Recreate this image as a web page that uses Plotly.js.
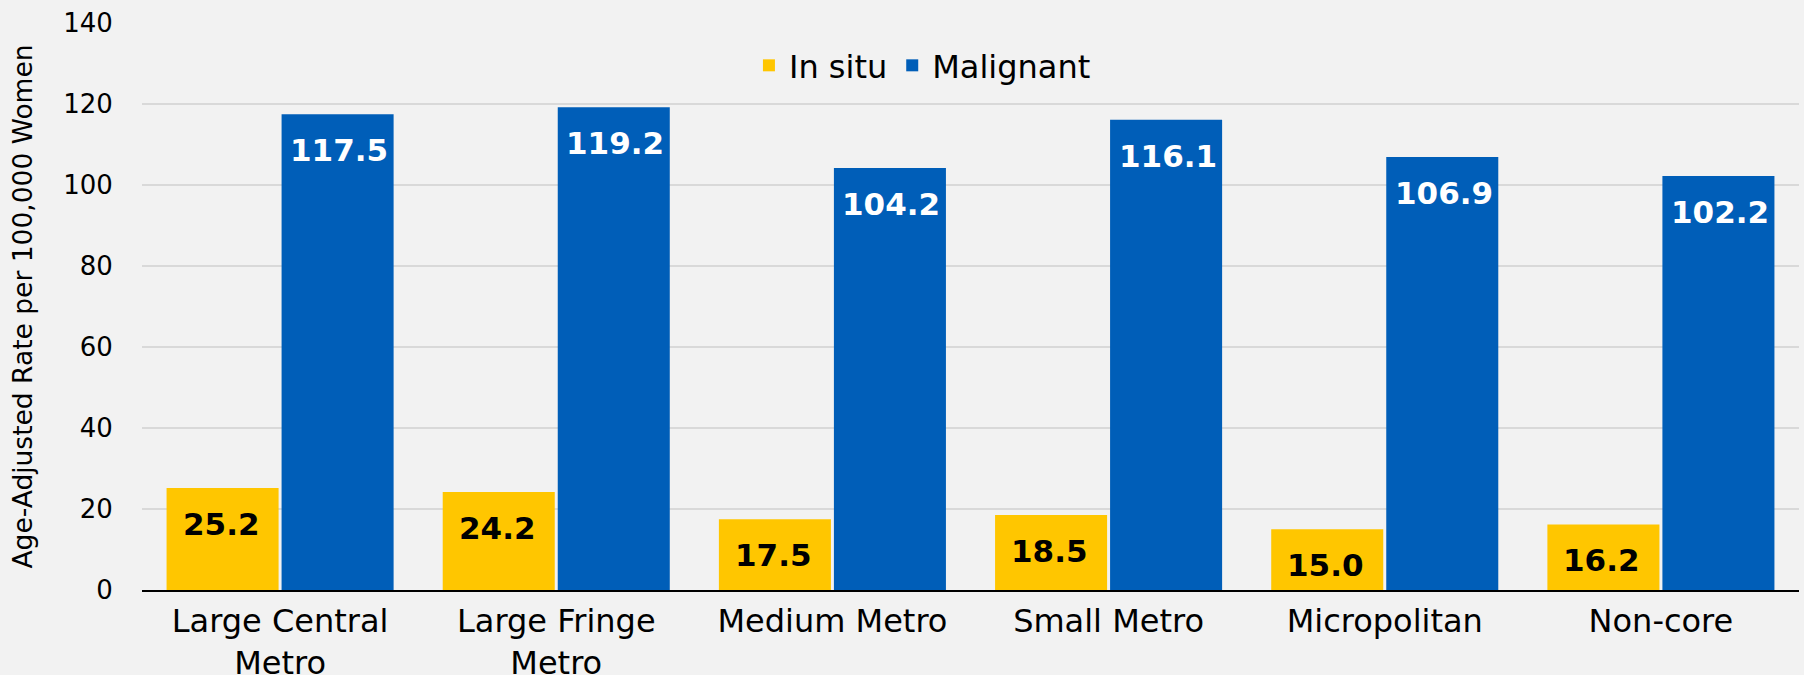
<!DOCTYPE html>
<html>
<head>
<meta charset="utf-8">
<script src="https://cdn.plot.ly/plotly-3.0.1.min.js"></script>
<style>html,body{margin:0;padding:0;background:#F2F2F2;}#chart{width:1804px;height:675px;}</style>
</head>
<body>
<div id="chart"></div>
<script>
const categories = ["Large Central<br>Metro", "Large Fringe<br>Metro", "Medium Metro", "Small Metro", "Micropolitan", "Non-core"];
const inSitu = [25.2, 24.2, 17.5, 18.5, 15.0, 16.2];
const malignant = [117.5, 119.2, 104.2, 116.1, 106.9, 102.2];
const seriesNames = ["In situ", "Malignant"];
const yTicks = [0, 20, 40, 60, 80, 100, 120, 140];

const FONT = "Verdana, 'DejaVu Sans', sans-serif";
const YELLOW = "#FFC600";
const BLUE = "#005EB8";

const traces = [
  {type: "bar", name: seriesNames[0], x: categories, y: inSitu,
   marker: {color: YELLOW}, hoverinfo: "skip"},
  {type: "bar", name: seriesNames[1], x: categories, y: malignant,
   marker: {color: BLUE}, hoverinfo: "skip"}
];

const annotations = [];
categories.forEach((c, i) => {
  annotations.push({x: c, y: inSitu[i], xref: "x", yref: "y", text: inSitu[i].toFixed(1),
    showarrow: false, xshift: -59, yshift: -36, yanchor: "middle",
    font: {family: FONT, size: 31, color: "#000000", weight: "bold"}});
  annotations.push({x: c, y: malignant[i], xref: "x", yref: "y", text: malignant[i].toFixed(1),
    showarrow: false, xshift: 59, yshift: -36, yanchor: "middle",
    font: {family: FONT, size: 31, color: "#FFFFFF", weight: "bold"}});
});

const layout = {
  width: 1804, height: 675,
  paper_bgcolor: "#F2F2F2", plot_bgcolor: "#F2F2F2",
  margin: {l: 142, r: 5, t: 23, b: 85},
  font: {family: FONT, color: "#000000"},
  barmode: "group", bargap: 0.167, bargroupgap: 0.026,
  showlegend: true,
  legend: {orientation: "h", x: 0.471, xanchor: "center", y: 0.925, yanchor: "middle",
    bgcolor: "rgba(0,0,0,0)", font: {family: FONT, size: 32, color: "#000000"},
    itemwidth: 30, traceorder: "normal"},
  xaxis: {type: "category", tickfont: {family: FONT, size: 32, color: "#000000"},
    showline: true, linecolor: "#000000", linewidth: 2, showgrid: false,
    ticks: "outside", ticklen: 2, tickcolor: "rgba(0,0,0,0)", fixedrange: true},
  yaxis: {range: [0, 140], tickvals: yTicks, ticktext: yTicks.map(String),
    tickfont: {family: FONT, size: 26, color: "#000000"},
    showgrid: true, gridcolor: "#D9D9D9", gridwidth: 2, zeroline: false,
    showline: false, ticks: "outside", ticklen: 23, tickcolor: "rgba(0,0,0,0)",
    title: {text: "Age-Adjusted Rate per 100,000 Women", standoff: 22,
      font: {family: FONT, size: 26.5, color: "#000000"}}, fixedrange: true},
  annotations: annotations
};

Plotly.newPlot("chart", traces, layout, {displayModeBar: false, staticPlot: true});
</script>
</body>
</html>
